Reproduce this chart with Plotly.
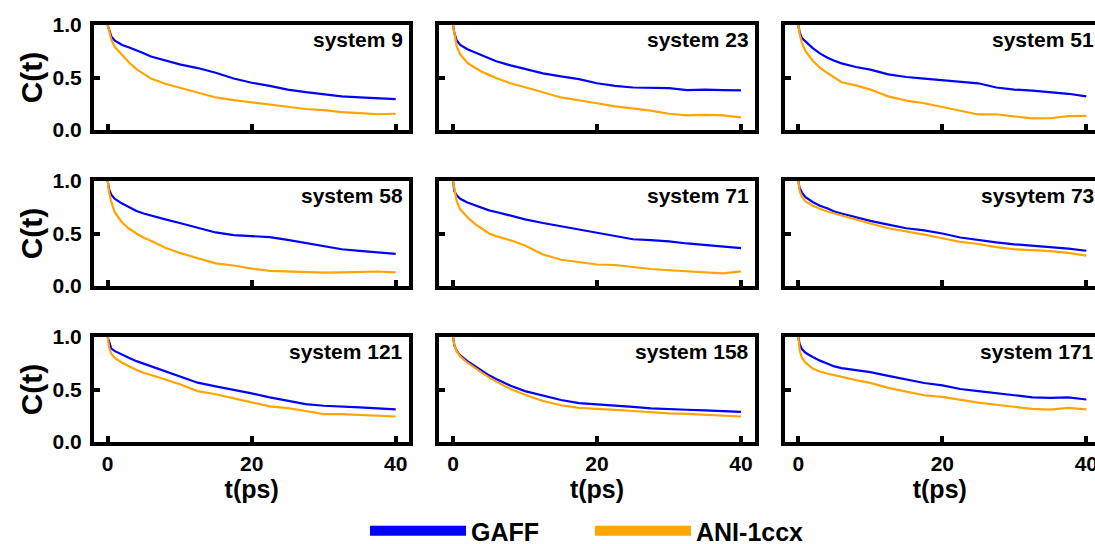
import plotly.graph_objects as go

# ---------------- data ----------------
t_ps = [0, 0.2, 0.5, 1, 2, 3, 4, 5, 6, 8, 10, 12.5, 15, 17.5, 20, 22.5, 25, 27.5, 30, 32.5, 35, 37.5, 40]

system_names = ["system 9", "system 23", "system 51",
                 "system 58", "system 71", "sysytem 73",
                 "system 121", "system 158", "system 171"]

gaff_9 = [1.0, 0.95, 0.89, 0.85, 0.81, 0.785, 0.76, 0.73, 0.70, 0.66, 0.625, 0.59, 0.545, 0.49, 0.45, 0.42, 0.385, 0.36, 0.34, 0.32, 0.31, 0.30, 0.295]
ani_9 = [1.0, 0.93, 0.86, 0.79, 0.71, 0.64, 0.58, 0.535, 0.49, 0.44, 0.405, 0.36, 0.31, 0.285, 0.265, 0.245, 0.22, 0.20, 0.19, 0.17, 0.16, 0.15, 0.155]

gaff_23 = [1.0, 0.92, 0.855, 0.81, 0.77, 0.74, 0.71, 0.68, 0.655, 0.615, 0.58, 0.54, 0.51, 0.485, 0.445, 0.42, 0.405, 0.40, 0.398, 0.38, 0.385, 0.38, 0.378]
ani_23 = [1.0, 0.90, 0.80, 0.72, 0.64, 0.595, 0.555, 0.525, 0.495, 0.445, 0.41, 0.36, 0.31, 0.285, 0.255, 0.225, 0.205, 0.185, 0.155, 0.14, 0.145, 0.14, 0.12]

gaff_51 = [1.0, 0.93, 0.875, 0.84, 0.78, 0.73, 0.69, 0.66, 0.635, 0.60, 0.575, 0.53, 0.505, 0.49, 0.475, 0.46, 0.445, 0.405, 0.385, 0.375, 0.362, 0.345, 0.32]
ani_51 = [1.0, 0.91, 0.83, 0.75, 0.66, 0.595, 0.545, 0.50, 0.455, 0.425, 0.385, 0.32, 0.28, 0.255, 0.218, 0.187, 0.148, 0.15, 0.13, 0.11, 0.112, 0.133, 0.134]

gaff_58 = [1.0, 0.92, 0.87, 0.83, 0.785, 0.75, 0.715, 0.69, 0.67, 0.635, 0.60, 0.555, 0.51, 0.485, 0.472, 0.465, 0.44, 0.41, 0.38, 0.35, 0.335, 0.322, 0.305]
ani_58 = [1.0, 0.89, 0.80, 0.70, 0.605, 0.545, 0.50, 0.46, 0.43, 0.365, 0.315, 0.262, 0.215, 0.195, 0.165, 0.145, 0.137, 0.135, 0.128, 0.13, 0.135, 0.138, 0.13]

gaff_71 = [1.0, 0.90, 0.865, 0.83, 0.795, 0.768, 0.745, 0.72, 0.705, 0.67, 0.635, 0.60, 0.57, 0.54, 0.51, 0.475, 0.445, 0.437, 0.425, 0.405, 0.39, 0.377, 0.36]
ani_71 = [1.0, 0.91, 0.81, 0.73, 0.655, 0.595, 0.545, 0.50, 0.475, 0.435, 0.385, 0.30, 0.25, 0.225, 0.205, 0.20, 0.18, 0.162, 0.15, 0.142, 0.128, 0.12, 0.14]

gaff_73 = [1.0, 0.93, 0.89, 0.845, 0.80, 0.765, 0.74, 0.71, 0.69, 0.655, 0.62, 0.585, 0.55, 0.53, 0.50, 0.462, 0.437, 0.415, 0.397, 0.385, 0.37, 0.355, 0.336]
ani_73 = [1.0, 0.90, 0.85, 0.805, 0.765, 0.735, 0.71, 0.69, 0.67, 0.63, 0.595, 0.55, 0.522, 0.49, 0.455, 0.42, 0.40, 0.37, 0.35, 0.343, 0.333, 0.315, 0.29]

gaff_121 = [1.0, 0.95, 0.89, 0.865, 0.83, 0.80, 0.77, 0.745, 0.72, 0.675, 0.625, 0.565, 0.53, 0.50, 0.463, 0.425, 0.39, 0.36, 0.345, 0.34, 0.33, 0.32, 0.31]
ani_121 = [1.0, 0.90, 0.84, 0.80, 0.755, 0.72, 0.685, 0.66, 0.64, 0.595, 0.55, 0.485, 0.455, 0.42, 0.378, 0.34, 0.322, 0.295, 0.265, 0.265, 0.26, 0.255, 0.243]

gaff_158 = [1.0, 0.92, 0.87, 0.825, 0.77, 0.725, 0.68, 0.635, 0.60, 0.535, 0.485, 0.44, 0.40, 0.37, 0.36, 0.348, 0.335, 0.32, 0.31, 0.307, 0.302, 0.295, 0.287]
ani_158 = [1.0, 0.92, 0.865, 0.815, 0.755, 0.705, 0.66, 0.615, 0.575, 0.505, 0.45, 0.39, 0.35, 0.325, 0.312, 0.305, 0.295, 0.283, 0.273, 0.268, 0.262, 0.255, 0.243]

gaff_171 = [1.0, 0.93, 0.885, 0.85, 0.81, 0.775, 0.748, 0.72, 0.703, 0.685, 0.665, 0.63, 0.595, 0.562, 0.54, 0.505, 0.485, 0.468, 0.445, 0.425, 0.42, 0.425, 0.405]
ani_171 = [1.0, 0.87, 0.80, 0.755, 0.70, 0.672, 0.652, 0.635, 0.618, 0.59, 0.563, 0.515, 0.48, 0.445, 0.43, 0.40, 0.375, 0.355, 0.338, 0.315, 0.308, 0.325, 0.31]

gaff_series = [gaff_9, gaff_23, gaff_51, gaff_58, gaff_71, gaff_73, gaff_121, gaff_158, gaff_171]
ani_series = [ani_9, ani_23, ani_51, ani_58, ani_71, ani_73, ani_121, ani_158, ani_171]

x_ticks = [0, 20, 40]
y_ticks = [0, 0.5, 1.0]
y_ticklabels = ["0.0", "0.5", "1.0"]

# ---------------- style / layout ----------------
BLUE = "#0000FF"
ORANGE = "#FFA500"
W, H = 1095, 544
PX_PER_PS = 7.2
col_zero_px = [107.7, 453.0, 798.3]           # pixel of t = 0 in each column
col_px = [(94.0, 409.4), (439.3, 754.7), (784.6, 1095.0)]
col_label_shift = [-4, -4, 1]
row_px = [(25, 130), (181, 286), (337, 442)]
FONT = "Liberation Sans, Arial, sans-serif"

fig = go.Figure()
layout = dict(
    width=W, height=H,
    margin=dict(l=0, r=0, t=0, b=0, autoexpand=False),
    paper_bgcolor="white", plot_bgcolor="white",
    font=dict(family=FONT, color="black", size=21, weight="bold"),
    showlegend=True,
)
annotations = []

for i in range(9):
    r, c = divmod(i, 3)
    n = i + 1
    xs = "" if n == 1 else str(n)
    x0, x1 = col_px[c]
    top, bot = row_px[r]
    z = col_zero_px[c]
    xr = [(x0 - z) / PX_PER_PS, (x1 - z) / PX_PER_PS]
    fig.add_trace(go.Scatter(x=t_ps, y=gaff_series[i], mode="lines",
                             line=dict(color=BLUE, width=2.2),
                             xaxis="x" + xs, yaxis="y" + xs, showlegend=False))
    fig.add_trace(go.Scatter(x=t_ps, y=ani_series[i], mode="lines",
                             line=dict(color=ORANGE, width=2.2),
                             xaxis="x" + xs, yaxis="y" + xs, showlegend=False))
    xa = dict(domain=[x0 / W, x1 / W], range=xr, anchor="y" + xs,
              showline=True, linewidth=4, linecolor="black", mirror=True,
              ticks="inside", ticklen=6, tickwidth=4, tickcolor="black",
              tickvals=x_ticks, showticklabels=(r == 2),
              ticklabeloverflow="allow",
              showgrid=False, zeroline=False, tickfont=dict(size=21))
    if r == 2:
        xa["title"] = dict(text="t(ps)", font=dict(size=25), standoff=4)
    ya = dict(domain=[1 - bot / H, 1 - top / H], range=[0, 1], anchor="x" + xs,
              showline=True, linewidth=4, linecolor="black", mirror=True,
              ticks="inside", ticklen=6, tickwidth=4, tickcolor="black",
              tickvals=y_ticks, ticktext=y_ticklabels, showticklabels=(c == 0),
              ticklabelstandoff=4,
              showgrid=False, zeroline=False, tickfont=dict(size=21))
    if c == 0:
        ya["title"] = dict(text="C(t)", font=dict(size=30), standoff=2)
    layout["xaxis" + xs] = xa
    layout["yaxis" + xs] = ya
    annotations.append(dict(text=system_names[i], showarrow=False,
                            xref="x" + xs + " domain", yref="y" + xs + " domain",
                            x=1, y=1, xanchor="right", yanchor="top",
                            xshift=col_label_shift[c], yshift=-1,
                            font=dict(size=21)))

# legend-only entries
fig.add_trace(go.Scatter(x=[None], y=[None], mode="lines", name="GAFF",
                         line=dict(color=BLUE, width=12), legend="legend"))
fig.add_trace(go.Scatter(x=[None], y=[None], mode="lines", name="ANI-1ccx",
                         line=dict(color=ORANGE, width=12), legend="legend2"))

leg_common = dict(orientation="h", xref="container", yref="container",
                  yanchor="middle", y=1 - 531 / H, xanchor="left",
                  itemwidth=96, font=dict(size=25), bgcolor="rgba(0,0,0,0)",
                  borderwidth=0)
layout["legend"] = dict(x=365 / W, **leg_common)
layout["legend2"] = dict(x=590 / W, **leg_common)
layout["annotations"] = annotations

fig.update_layout(**layout)

fig.write_html("out.html")
